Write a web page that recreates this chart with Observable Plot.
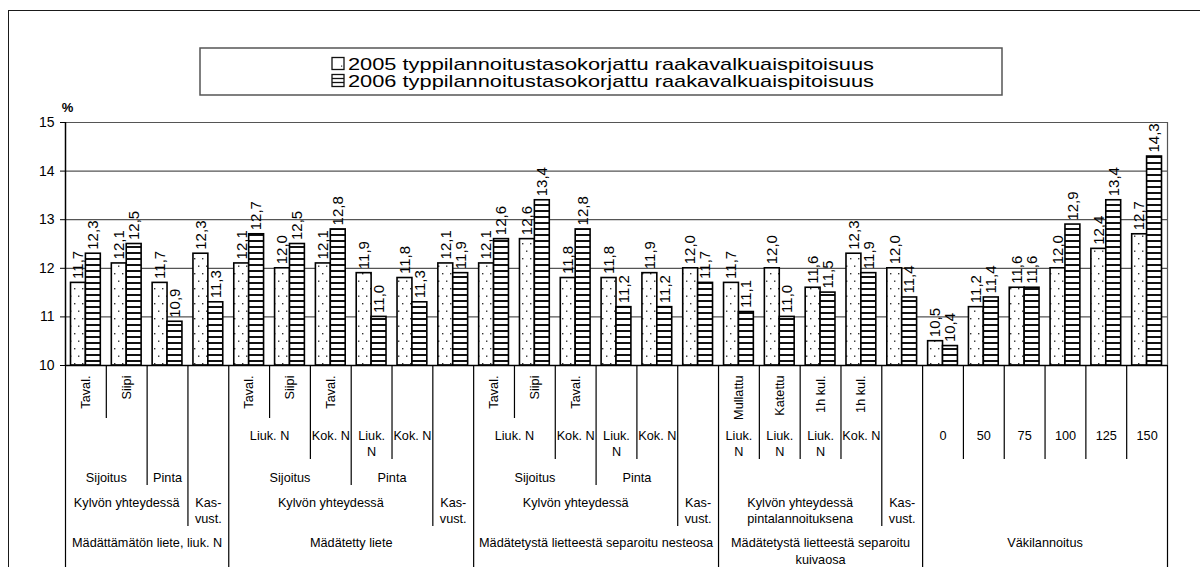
<!DOCTYPE html>
<html>
<head>
<meta charset="utf-8">
<script src="https://cdn.jsdelivr.net/npm/d3@7"></script>
<script src="https://cdn.jsdelivr.net/npm/@observablehq/plot@0.6"></script>
<style>
  html, body { margin: 0; padding: 0; background: #fff; overflow: hidden; }
  #wrap { position: relative; width: 1200px; height: 567px; overflow: hidden; font-family: "Liberation Sans", Arial, sans-serif; }
  #chart { position: absolute; left: 0; top: 0; }
  #legend { position: absolute; left: 0; top: 0; }
  #frame { position: absolute; left: 8px; top: 10px; width: 1300px; height: 700px; border: 1.5px solid #1a1a1a; pointer-events: none; }
</style>
</head>
<body>
<div id="wrap">
  <div id="chart"></div>
  <svg id="legend" width="1200" height="110"></svg>
  <div id="frame"></div>
</div>
<script>
// ---------------- data ----------------
const seriesNames = [
  "2005 typpilannoitustasokorjattu raakavalkuaispitoisuus",
  "2006 typpilannoitustasokorjattu raakavalkuaispitoisuus"
];
const values2005 = [11.7, 12.1, 11.7, 12.3,
                    12.1, 12.0, 12.1, 11.9, 11.8, 12.1,
                    12.1, 12.6, 11.8, 11.8, 11.9, 12.0,
                    11.7, 12.0, 11.6, 12.3, 12.0,
                    10.5, 11.2, 11.6, 12.0, 12.4, 12.7];
const values2006 = [12.3, 12.5, 10.9, 11.3,
                    12.7, 12.5, 12.8, 11.0, 11.3, 11.9,
                    12.6, 13.4, 12.8, 11.2, 11.2, 11.7,
                    11.1, 11.0, 11.5, 11.9, 11.4,
                    10.4, 11.4, 11.6, 12.9, 13.4, 14.3];
const yTicks = [10, 11, 12, 13, 14, 15];
const yUnit = "%";

// hierarchical category labels: [label, firstCategory, endCategory)
const level1Labels = [["Taval.",0,1],["Siipi",1,2],["Taval.",4,5],["Siipi",5,6],["Taval.",6,7],
  ["Taval.",10,11],["Siipi",11,12],["Taval.",12,13],
  ["Mullattu",16,17],["Katettu",17,18],["1h kul.",18,19],["1h kul.",19,20]];
const level2Labels = [["Liuk. N",4,6],["Kok. N",6,7],["Liuk.\nN",7,8],["Kok. N",8,9],
  ["Liuk. N",10,12],["Kok. N",12,13],["Liuk.\nN",13,14],["Kok. N",14,15],
  ["Liuk.\nN",16,17],["Liuk.\nN",17,18],["Liuk.\nN",18,19],["Kok. N",19,20],
  ["0",21,22],["50",22,23],["75",23,24],["100",24,25],["125",25,26],["150",26,27]];
const level3Labels = [["Sijoitus",0,2],["Pinta",2,3],["Sijoitus",4,7],["Pinta",7,9],
  ["Sijoitus",10,13],["Pinta",13,15]];
const level4Labels = [["Kylvön yhteydessä",0,3],["Kas-\nvust.",3,4],
  ["Kylvön yhteydessä",4,9],["Kas-\nvust.",9,10],
  ["Kylvön yhteydessä",10,15],["Kas-\nvust.",15,16],
  ["Kylvön yhteydessä\npintalannoituksena",16,20],["Kas-\nvust.",20,21]];
const level5Labels = [["Mädättämätön liete, liuk. N",0,4],["Mädätetty liete",4,10],
  ["Mädätetystä lietteestä separoitu nesteosa",10,16],
  ["Mädätetystä lietteestä separoitu\nkuivaosa",16,21],["Väkilannoitus",21,27]];

// ---------------- derived tables ----------------
const nCat = values2005.length;
const bars2005 = values2005.map((v, i) => ({i, v}));
const bars2006 = values2006.map((v, i) => ({i, v}));
const levels = [level1Labels, level2Labels, level3Labels, level4Labels, level5Labels];
// boundary depth = deepest label level that has a cell edge there
const boundaries = d3.range(nCat + 1).map(b => {
  let depth = 0;
  levels.forEach((lv, k) => { if (lv.some(d => d[1] === b || d[2] === b)) depth = k; });
  if (b === 0 || b === nCat) depth = 4;
  return {b, depth};
});

// ---------------- layout / style ----------------
const W = 1200, H = 567;
const mTop = 122, mBottom = 202, mLeft = 65, mRight = 33;
const frameH = H - mTop - mBottom;
const rowBottoms = [53, 94, 120, 161, 202];
const font = "'Liberation Sans', Arial, sans-serif";
const catFont = 12.7;
const fmt = v => v.toFixed(1).replace(".", ",");
const mid = d => (d[1] + d[2]) / 2;

const marks = [
  Plot.ruleY(yTicks.filter(t => t > yTicks[0]), {stroke: "#555", strokeWidth: 1.2}),
  Plot.ruleX([nCat], {stroke: "#555", strokeWidth: 1.2}),
  Plot.rect(bars2005, {x1: d => d.i + 0.135, x2: d => d.i + 0.5, y1: yTicks[0], y2: "v",
    fill: "url(#pat2005)", stroke: "#000", strokeWidth: 1.6}),
  Plot.rect(bars2006, {x1: d => d.i + 0.5, x2: d => d.i + 0.865, y1: yTicks[0], y2: "v",
    fill: "url(#pat2006)", stroke: "#000", strokeWidth: 1.6}),
  Plot.text(bars2005, {x: d => d.i + 0.3175, y: "v", text: d => fmt(d.v), rotate: -90,
    textAnchor: "start", lineAnchor: "middle", dy: -4, fontSize: 15, fill: "#000"}),
  Plot.text(bars2006, {x: d => d.i + 0.6825, y: "v", text: d => fmt(d.v), rotate: -90,
    textAnchor: "start", lineAnchor: "middle", dy: -4, fontSize: 15, fill: "#000"}),
  Plot.ruleY([yTicks[0]], {stroke: "#000", strokeWidth: 1.5}),
  Plot.ruleX([0], {stroke: "#000", strokeWidth: 1.5}),
  Plot.axisY({ticks: yTicks, tickSize: 5, tickPadding: 6, tickFormat: d => String(d),
    label: null, fontSize: 14, stroke: "#000", fill: "#000"}),
  Plot.text([yUnit], {frameAnchor: "top-left", textAnchor: "middle", lineAnchor: "middle",
    dx: 2, dy: -15, fontWeight: "bold", fontSize: 13, fill: "#000"}),
  // category table divider lines
  ...rowBottoms.map((rb, k) => Plot.ruleX(boundaries.filter(d => d.depth === k), {
    x: "b", insetTop: frameH, insetBottom: -rb, stroke: "#000", strokeWidth: 1.2})),
  // category table labels
  Plot.text(level1Labels, {x: mid, text: d => d[0], frameAnchor: "bottom", rotate: -90,
    textAnchor: "end", lineAnchor: "middle", dy: 10, fontSize: catFont, fill: "#000"}),
  ...[[level2Labels, 62.6], [level3Labels, 104.4], [level4Labels, 129.4], [level5Labels, 170.2]]
    .map(([lv, off]) => Plot.text(lv, {x: mid, text: d => d[0], frameAnchor: "bottom",
      textAnchor: "middle", lineAnchor: "top", lineHeight: 1.3, dy: off,
      fontSize: catFont, fill: "#000"}))
];

const chart = Plot.plot({
  width: W, height: H,
  marginTop: mTop, marginBottom: mBottom, marginLeft: mLeft, marginRight: mRight,
  x: {domain: [0, nCat], axis: null},
  y: {domain: [yTicks[0], yTicks[yTicks.length - 1]], axis: null},
  style: {fontFamily: font, fontSize: "13px", background: "transparent", color: "#000", overflow: "visible"},
  marks
});

d3.select(chart).insert("defs", ":first-child").html(`
  <pattern id="pat2005" patternUnits="userSpaceOnUse" width="8" height="15">
    <rect width="8" height="15" fill="#fff"/>
    <rect x="2" y="3" width="1.4" height="1.4" fill="#333"/>
    <rect x="6" y="10.5" width="1.4" height="1.4" fill="#333"/>
  </pattern>
  <pattern id="pat2006" patternUnits="userSpaceOnUse" width="8" height="6">
    <rect width="8" height="6" fill="#fff"/>
    <rect y="0" width="8" height="2" fill="#111"/>
  </pattern>`);
document.getElementById("chart").appendChild(chart);

// ---------------- legend ----------------
const lg = d3.select("#legend");
lg.append("rect").attr("x", 200).attr("y", 48).attr("width", 802).attr("height", 47)
  .attr("fill", "#fff").attr("stroke", "#555").attr("stroke-width", 1.5);
const swX = 332, textX = 348, textLen = 526;
seriesNames.forEach((name, k) => {
  const base = 69.5 + k * 17;
  const sy = base - 12;
  const g = lg.append("g");
  g.append("rect").attr("x", swX).attr("y", sy).attr("width", 12).attr("height", 12)
    .attr("fill", "#fff").attr("stroke", "#111").attr("stroke-width", 1.3);
  if (k === 0) {
    g.append("rect").attr("x", swX + 9).attr("y", sy + 8).attr("width", 1.2).attr("height", 1.2).attr("fill", "#333");
  } else {
    g.append("line").attr("x1", swX).attr("x2", swX + 12).attr("y1", sy + 4).attr("y2", sy + 4).attr("stroke", "#111").attr("stroke-width", 1.3);
    g.append("line").attr("x1", swX).attr("x2", swX + 12).attr("y1", sy + 8).attr("y2", sy + 8).attr("stroke", "#111").attr("stroke-width", 1.3);
  }
  g.append("text").attr("x", textX).attr("y", base).attr("font-family", font)
    .attr("font-size", 17).attr("fill", "#000")
    .attr("textLength", textLen).attr("lengthAdjust", "spacingAndGlyphs").text(name);
});
</script>
</body>
</html>
